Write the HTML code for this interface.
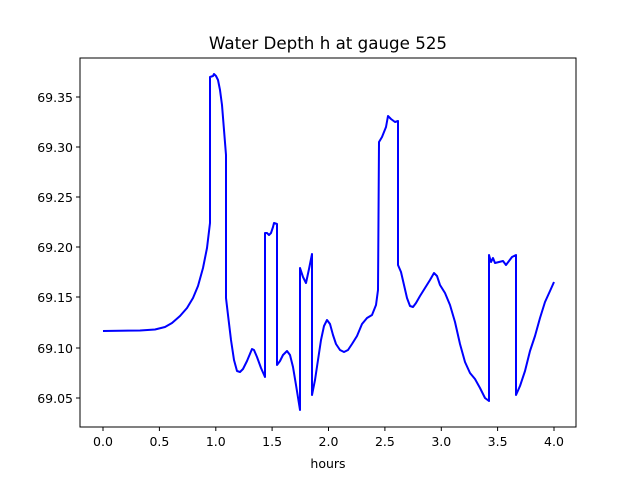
<!DOCTYPE html>
<html><head><style>body{margin:0;background:#fff}svg{display:block}text{font-family:"DejaVu Sans","Liberation Sans",sans-serif;fill:#000}</style></head><body>
<svg width="640" height="480" viewBox="0 0 640 480">
<rect width="640" height="480" fill="#fff"/>
<rect x="80" y="58" width="496" height="369" fill="none" stroke="#000" stroke-width="1"/>
<g stroke="#000" stroke-width="1">
<line x1="103" y1="427" x2="103" y2="431"/><line x1="159.4" y1="427" x2="159.4" y2="431"/><line x1="215.8" y1="427" x2="215.8" y2="431"/><line x1="272.1" y1="427" x2="272.1" y2="431"/><line x1="328.5" y1="427" x2="328.5" y2="431"/><line x1="384.9" y1="427" x2="384.9" y2="431"/><line x1="441.3" y1="427" x2="441.3" y2="431"/><line x1="497.6" y1="427" x2="497.6" y2="431"/><line x1="554" y1="427" x2="554" y2="431"/>
<line x1="76" y1="398" x2="80" y2="398"/><line x1="76" y1="348" x2="80" y2="348"/><line x1="76" y1="297" x2="80" y2="297"/><line x1="76" y1="247" x2="80" y2="247"/><line x1="76" y1="197" x2="80" y2="197"/><line x1="76" y1="147" x2="80" y2="147"/><line x1="76" y1="97" x2="80" y2="97"/>
</g>
<g font-size="12.5" text-anchor="middle">
<text x="103" y="446">0.0</text><text x="159.4" y="446">0.5</text><text x="215.8" y="446">1.0</text><text x="272.1" y="446">1.5</text><text x="328.5" y="446">2.0</text><text x="384.9" y="446">2.5</text><text x="441.3" y="446">3.0</text><text x="497.6" y="446">3.5</text><text x="554" y="446">4.0</text>
</g>
<g font-size="12.5" text-anchor="end">
<text x="73" y="403">69.05</text><text x="73" y="353">69.10</text><text x="73" y="302">69.15</text><text x="73" y="252">69.20</text><text x="73" y="202">69.25</text><text x="73" y="152">69.30</text><text x="73" y="102">69.35</text>
</g>
<text x="328" y="49" font-size="16.7" text-anchor="middle">Water Depth h at gauge 525</text>
<text x="328" y="468" font-size="12.5" text-anchor="middle">hours</text>
<polyline fill="none" stroke="#0000ff" stroke-width="2" stroke-linejoin="round" points="103,331 140,330.5 155,329.5 165,327 172,323 180,316 187,308 193,298 198,286 203,268 207,248 210,223 210,77 213,76 214,74 216,76 218,80 220,90 222,105 224,130 226,155 226,298 228,315 231,340 234,360 237,371 240,372 243,369 247,361 252,349 254,350 257,357 261,368 265,377 265,233 267,233 269,235 271,233 273,227 274,223 277,224 277,365 280,361 283,355 287,351 290,355 293,367 296,385 300,410 300,268 303,277 306,283 309,269 312,254 312,395 315,380 318,360 321,340 324,326 327,320 330,324 333,335 336,344 340,350 344,352 348,350 352,344 357,336 362,324 367,318 372,315 376,305 378,290 379,142 382,137 384,132 386,127 388,116 391,119 395,122 398,121 398,265 401,272 404,285 407,298 410,306 413,307 416,303 420,296 425,288 430,280 434,273 437,276 440,285 445,293 450,305 455,322 460,344 465,362 470,373 475,379 480,388 485,398 489,401 489,255 491,262 493,258 495,263 499,262 503,261 506,265 509,261 512,257 516,255 516,395 520,386 525,371 530,351 535,336 540,318 545,302 550,291 554,282"/>
</svg>
</body></html>
